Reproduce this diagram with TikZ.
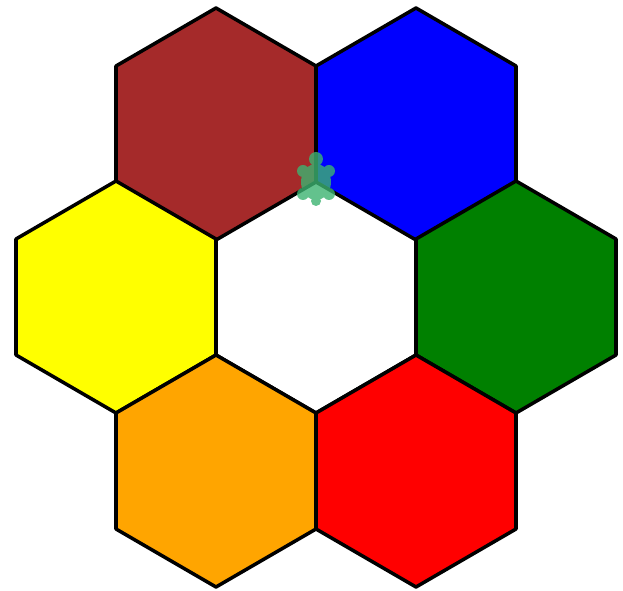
\documentclass[tikz,border=0pt]{standalone}
\usepackage{tikz}
\definecolor{hexbrown}{RGB}{165,42,42}
\definecolor{hexblue}{RGB}{0,0,255}
\definecolor{hexyellow}{RGB}{255,255,0}
\definecolor{hexgreen}{RGB}{0,128,0}
\definecolor{hexorange}{RGB}{255,165,0}
\definecolor{hexred}{RGB}{255,0,0}
\definecolor{turtlegreen}{RGB}{60,179,113}

\begin{document}
\begin{tikzpicture}[x=0.02cm, y=-0.02cm]
  \useasboundingbox (0,0) rectangle (623,591);
  % ring of six hexagons round a white one (side 116)
  \foreach \cx/\cy/\col in {316/297/white, 216/124/hexbrown, 416/124/hexblue,
      116/297/hexyellow, 516/297/hexgreen, 216/471/hexorange, 416/471/hexred}
    \filldraw[fill=\col, draw=black, line width=2pt, line join=round]
      (\cx,\cy) ++(0,-116) -- ++(100,58) -- ++(0,116) -- ++(-100,58)
      -- ++(-100,-58) -- ++(0,-116) -- cycle;
  % the turtle, at the top corner of the white hexagon (one path, so no darker overlaps)
  \fill[turtlegreen, fill opacity=0.8]
    (316,159) circle (7)
    (303,171) circle (6) (329,171) circle (6)
    (303,194) circle (6) (329,194) circle (6)
    (316,201) circle (5)
    (316,182) ellipse (15 and 18);
\end{tikzpicture}
\end{document}
